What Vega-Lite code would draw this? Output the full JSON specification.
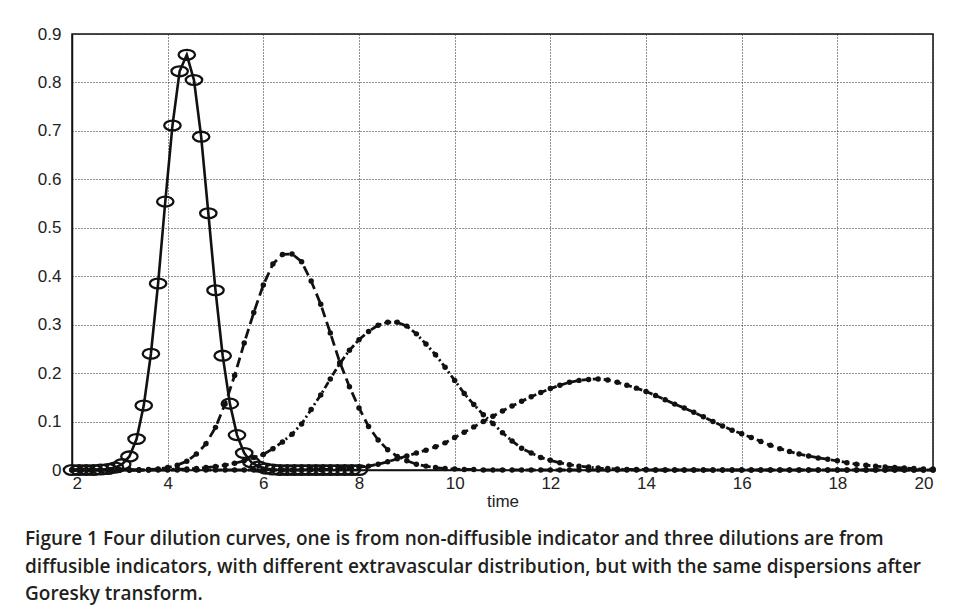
{
  "$schema": "https://vega.github.io/schema/vega-lite/v6.json",
  "width": 861,
  "height": 436,
  "autosize": {"type": "none"},
  "padding": {"left": 72, "top": 34, "right": 23, "bottom": 145},
  "background": "#ffffff",
  "title": {
    "text": [
      "Figure 1 Four dilution curves, one is from non-diffusible indicator and three dilutions are from",
      "diffusible indicators, with different extravascular distribution, but with the same dispersions after",
      "Goresky transform."
    ],
    "orient": "bottom",
    "anchor": "start",
    "frame": "group",
    "dx": -47,
    "offset": 21,
    "baseline": "top",
    "font": "Open Sans",
    "fontSize": 19,
    "fontWeight": 600,
    "lineHeight": 27.5,
    "color": "#231f20"
  },
  "datasets": {
    "solid": [
      {"t": 2, "v": 0}, {"t": 2.15, "v": 0}, {"t": 2.3, "v": 0}, {"t": 2.45, "v": 0},
      {"t": 2.6, "v": 0.001}, {"t": 2.75, "v": 0.002}, {"t": 2.9, "v": 0.005}, {"t": 3.05, "v": 0.012},
      {"t": 3.2, "v": 0.028}, {"t": 3.35, "v": 0.064}, {"t": 3.5, "v": 0.133}, {"t": 3.65, "v": 0.24},
      {"t": 3.8, "v": 0.385}, {"t": 3.95, "v": 0.554}, {"t": 4.1, "v": 0.711}, {"t": 4.25, "v": 0.823},
      {"t": 4.4, "v": 0.857}, {"t": 4.55, "v": 0.805}, {"t": 4.7, "v": 0.688}, {"t": 4.85, "v": 0.53},
      {"t": 5, "v": 0.371}, {"t": 5.15, "v": 0.236}, {"t": 5.3, "v": 0.137}, {"t": 5.45, "v": 0.072},
      {"t": 5.6, "v": 0.035}, {"t": 5.75, "v": 0.016}, {"t": 5.9, "v": 0.007}, {"t": 6.05, "v": 0.003},
      {"t": 6.2, "v": 0.001}, {"t": 6.35, "v": 0}, {"t": 6.5, "v": 0}, {"t": 6.65, "v": 0},
      {"t": 6.8, "v": 0}, {"t": 6.95, "v": 0}, {"t": 7.1, "v": 0}, {"t": 7.25, "v": 0},
      {"t": 7.4, "v": 0}, {"t": 7.55, "v": 0}, {"t": 7.7, "v": 0}, {"t": 7.85, "v": 0}, {"t": 8, "v": 0}
    ],
    "diffusible": [
      {"t": 2.0, "d1": 0, "d2": 0, "d3": 0},
      {"t": 2.2, "d1": 0, "d2": 0, "d3": 0},
      {"t": 2.4, "d1": 0, "d2": 0, "d3": 0},
      {"t": 2.6, "d1": 0, "d2": 0, "d3": 0},
      {"t": 2.8, "d1": 0, "d2": 0, "d3": 0},
      {"t": 3.0, "d1": 0, "d2": 0, "d3": 0},
      {"t": 3.2, "d1": 0, "d2": 0, "d3": 0},
      {"t": 3.4, "d1": 0, "d2": 0, "d3": 0},
      {"t": 3.6, "d1": 0.001, "d2": 0, "d3": 0},
      {"t": 3.8, "d1": 0.002, "d2": 0.001, "d3": 0},
      {"t": 4.0, "d1": 0.005, "d2": 0.001, "d3": 0},
      {"t": 4.2, "d1": 0.01, "d2": 0.002, "d3": 0},
      {"t": 4.4, "d1": 0.018, "d2": 0.002, "d3": 0},
      {"t": 4.6, "d1": 0.033, "d2": 0.003, "d3": 0},
      {"t": 4.8, "d1": 0.054, "d2": 0.005, "d3": 0},
      {"t": 5.0, "d1": 0.088, "d2": 0.007, "d3": 0},
      {"t": 5.2, "d1": 0.136, "d2": 0.01, "d3": 0},
      {"t": 5.4, "d1": 0.195, "d2": 0.014, "d3": 0},
      {"t": 5.6, "d1": 0.262, "d2": 0.019, "d3": 0},
      {"t": 5.8, "d1": 0.325, "d2": 0.026, "d3": 0},
      {"t": 6.0, "d1": 0.382, "d2": 0.032, "d3": 0},
      {"t": 6.2, "d1": 0.425, "d2": 0.044, "d3": 0},
      {"t": 6.4, "d1": 0.445, "d2": 0.058, "d3": 0},
      {"t": 6.6, "d1": 0.446, "d2": 0.074, "d3": 0},
      {"t": 6.8, "d1": 0.43, "d2": 0.095, "d3": 0},
      {"t": 7.0, "d1": 0.39, "d2": 0.125, "d3": 0.001},
      {"t": 7.2, "d1": 0.342, "d2": 0.155, "d3": 0.001},
      {"t": 7.4, "d1": 0.283, "d2": 0.188, "d3": 0.002},
      {"t": 7.6, "d1": 0.222, "d2": 0.22, "d3": 0.003},
      {"t": 7.8, "d1": 0.172, "d2": 0.247, "d3": 0.004},
      {"t": 8.0, "d1": 0.128, "d2": 0.269, "d3": 0.006},
      {"t": 8.2, "d1": 0.09, "d2": 0.286, "d3": 0.008},
      {"t": 8.4, "d1": 0.062, "d2": 0.299, "d3": 0.012},
      {"t": 8.6, "d1": 0.042, "d2": 0.305, "d3": 0.017},
      {"t": 8.8, "d1": 0.028, "d2": 0.305, "d3": 0.023},
      {"t": 9.0, "d1": 0.019, "d2": 0.297, "d3": 0.029},
      {"t": 9.2, "d1": 0.012, "d2": 0.281, "d3": 0.035},
      {"t": 9.4, "d1": 0.008, "d2": 0.26, "d3": 0.041},
      {"t": 9.6, "d1": 0.005, "d2": 0.238, "d3": 0.048},
      {"t": 9.8, "d1": 0.003, "d2": 0.212, "d3": 0.056},
      {"t": 10.0, "d1": 0.002, "d2": 0.185, "d3": 0.067},
      {"t": 10.2, "d1": 0.001, "d2": 0.158, "d3": 0.078},
      {"t": 10.4, "d1": 0.001, "d2": 0.135, "d3": 0.089},
      {"t": 10.6, "d1": 0, "d2": 0.114, "d3": 0.1},
      {"t": 10.8, "d1": 0, "d2": 0.096, "d3": 0.111},
      {"t": 11.0, "d1": 0, "d2": 0.077, "d3": 0.122},
      {"t": 11.2, "d1": 0, "d2": 0.06, "d3": 0.132},
      {"t": 11.4, "d1": 0, "d2": 0.045, "d3": 0.142},
      {"t": 11.6, "d1": 0, "d2": 0.035, "d3": 0.151},
      {"t": 11.8, "d1": 0, "d2": 0.026, "d3": 0.16},
      {"t": 12.0, "d1": 0, "d2": 0.02, "d3": 0.168},
      {"t": 12.2, "d1": 0, "d2": 0.015, "d3": 0.175},
      {"t": 12.4, "d1": 0, "d2": 0.011, "d3": 0.181},
      {"t": 12.6, "d1": 0, "d2": 0.008, "d3": 0.185},
      {"t": 12.8, "d1": 0, "d2": 0.006, "d3": 0.187},
      {"t": 13.0, "d1": 0, "d2": 0.004, "d3": 0.188},
      {"t": 13.2, "d1": 0, "d2": 0.003, "d3": 0.186},
      {"t": 13.4, "d1": 0, "d2": 0.002, "d3": 0.181},
      {"t": 13.6, "d1": 0, "d2": 0.001, "d3": 0.175},
      {"t": 13.8, "d1": 0, "d2": 0.001, "d3": 0.169},
      {"t": 14.0, "d1": 0, "d2": 0.001, "d3": 0.162},
      {"t": 14.2, "d1": 0, "d2": 0, "d3": 0.154},
      {"t": 14.4, "d1": 0, "d2": 0, "d3": 0.145},
      {"t": 14.6, "d1": 0, "d2": 0, "d3": 0.136},
      {"t": 14.8, "d1": 0, "d2": 0, "d3": 0.128},
      {"t": 15.0, "d1": 0, "d2": 0, "d3": 0.119},
      {"t": 15.2, "d1": 0, "d2": 0, "d3": 0.11},
      {"t": 15.4, "d1": 0, "d2": 0, "d3": 0.1},
      {"t": 15.6, "d1": 0, "d2": 0, "d3": 0.091},
      {"t": 15.8, "d1": 0, "d2": 0, "d3": 0.082},
      {"t": 16.0, "d1": 0, "d2": 0, "d3": 0.075},
      {"t": 16.2, "d1": 0, "d2": 0, "d3": 0.067},
      {"t": 16.4, "d1": 0, "d2": 0, "d3": 0.059},
      {"t": 16.6, "d1": 0, "d2": 0, "d3": 0.051},
      {"t": 16.8, "d1": 0, "d2": 0, "d3": 0.044},
      {"t": 17.0, "d1": 0, "d2": 0, "d3": 0.038},
      {"t": 17.2, "d1": 0, "d2": 0, "d3": 0.033},
      {"t": 17.4, "d1": 0, "d2": 0, "d3": 0.029},
      {"t": 17.6, "d1": 0, "d2": 0, "d3": 0.025},
      {"t": 17.8, "d1": 0, "d2": 0, "d3": 0.022},
      {"t": 18.0, "d1": 0, "d2": 0, "d3": 0.019},
      {"t": 18.2, "d1": 0, "d2": 0, "d3": 0.015},
      {"t": 18.4, "d1": 0, "d2": 0, "d3": 0.012},
      {"t": 18.6, "d1": 0, "d2": 0, "d3": 0.01},
      {"t": 18.8, "d1": 0, "d2": 0, "d3": 0.008},
      {"t": 19.0, "d1": 0, "d2": 0, "d3": 0.006},
      {"t": 19.2, "d1": 0, "d2": 0, "d3": 0.005},
      {"t": 19.4, "d1": 0, "d2": 0, "d3": 0.004},
      {"t": 19.6, "d1": 0, "d2": 0, "d3": 0.003},
      {"t": 19.8, "d1": 0, "d2": 0, "d3": 0.002},
      {"t": 20.0, "d1": 0, "d2": 0, "d3": 0.002}
    ]
  },
  "encoding": {
    "x": {
      "field": "t",
      "type": "quantitative",
      "scale": {"domain": [2, 20], "nice": false, "zero": false},
      "axis": {
        "title": "time",
        "values": [2, 4, 6, 8, 10, 12, 14, 16, 18, 20],
        "format": "d",
        "grid": true,
        "ticks": false,
        "labelPadding": 5,
        "titlePadding": 2
      }
    },
    "y": {
      "field": "v",
      "type": "quantitative",
      "scale": {"domain": [0, 0.9], "nice": false},
      "axis": {
        "title": null,
        "values": [0, 0.1, 0.2, 0.3, 0.4, 0.5, 0.6, 0.7, 0.8, 0.9],
        "format": ".1~f",
        "grid": true,
        "ticks": false,
        "labelPadding": 11
      }
    }
  },
  "layer": [
    {
      "data": {"name": "diffusible"},
      "transform": [{"fold": ["d1", "d2", "d3"], "as": ["series", "v"]}],
      "mark": {"type": "line", "color": "#111111", "strokeWidth": 2.8, "clip": false},
      "encoding": {
        "detail": {"field": "series", "type": "nominal"},
        "strokeDash": {
          "field": "series",
          "type": "nominal",
          "scale": {"domain": ["d1", "d2", "d3"], "range": [[10, 5], [7, 3, 2, 3], [7, 4]]},
          "legend": null
        }
      }
    },
    {
      "data": {"name": "diffusible"},
      "transform": [{"fold": ["d1", "d2", "d3"], "as": ["series", "v"]}],
      "mark": {"type": "circle", "color": "#111111", "size": 30, "opacity": 1, "clip": false}
    },
    {
      "data": {"name": "solid"},
      "mark": {"type": "line", "color": "#111111", "strokeWidth": 2.6, "clip": false}
    },
    {
      "data": {"name": "solid"},
      "mark": {
        "type": "point",
        "shape": "M -1 0 C -1 -0.33 -0.552 -0.6 0 -0.6 C 0.552 -0.6 1 -0.33 1 0 C 1 0.33 0.552 0.6 0 0.6 C -0.552 0.6 -1 0.33 -1 0 Z",
        "filled": false,
        "color": "#111111",
        "strokeWidth": 2.3,
        "size": 270,
        "opacity": 1,
        "clip": false
      }
    }
  ],
  "config": {
    "font": "Liberation Sans",
    "view": {"stroke": "#111111", "strokeWidth": 1.5},
    "axis": {
      "domain": true,
      "domainColor": "#111111",
      "domainWidth": 1.5,
      "gridColor": "#222222",
      "gridDash": [1, 2],
      "gridWidth": 1,
      "gridOpacity": 1,
      "labelFont": "Liberation Sans",
      "labelFontSize": 17,
      "labelColor": "#222222",
      "titleFont": "Liberation Sans",
      "titleFontSize": 17,
      "titleFontWeight": "normal",
      "titleColor": "#222222"
    }
  }
}
